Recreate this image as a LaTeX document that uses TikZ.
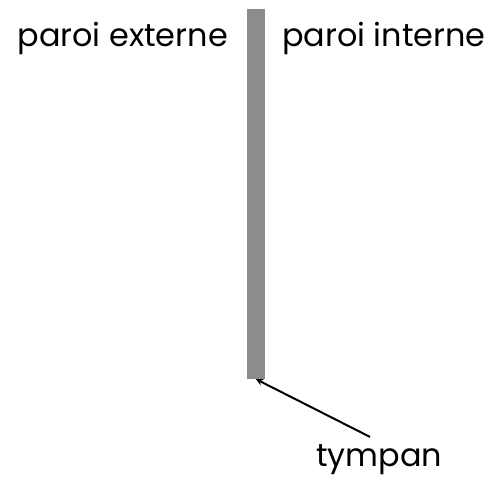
\documentclass[tikz,border=0pt]{standalone}
\usepackage{fontspec}
\setmainfont{Poppins}
\usetikzlibrary{positioning}

\begin{document}
\begin{tikzpicture}[
    x=1bp, y=1bp,
    lbl/.style={inner sep=0pt, font=\fontsize{32}{37}\selectfont},
    membrane/.style={rectangle, fill=black!45, inner sep=0pt, minimum width=18bp, minimum height=370bp},
    arrow/.style={->, >=stealth, line width=2bp}
]
\useasboundingbox (0,0) rectangle (491,484);

\node[membrane] (bar) at (256,290) {};
\node[lbl, anchor=base east] (ext) at (228,437) {paroi externe};
\node[lbl, anchor=base west] (int) at (282,437) {paroi interne};
\node[lbl, anchor=base] (tympan) at (379,17) {tympan};

\draw[arrow] ([yshift=8bp]tympan.north -| 370,0) -- (bar.south);

\end{tikzpicture}
\end{document}
